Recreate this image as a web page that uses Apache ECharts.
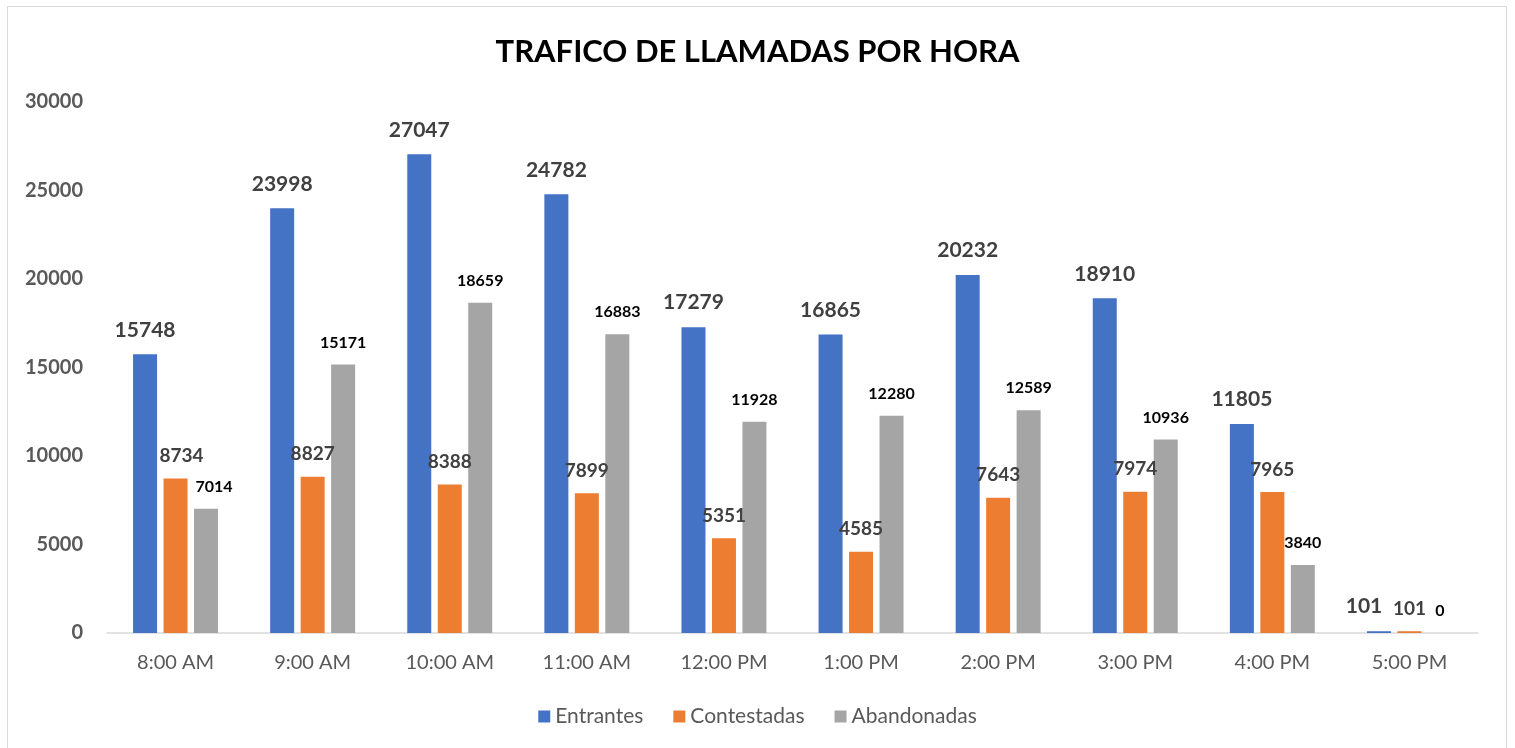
<!DOCTYPE html>
<html><head><meta charset="utf-8">
<script src="https://cdn.jsdelivr.net/npm/echarts@6/dist/echarts.min.js"></script>
<style>
html,body{margin:0;padding:0;background:#fff;}
#frame{position:absolute;left:7px;top:6px;width:1500px;height:760px;border:1.5px solid #d9d9d9;box-sizing:border-box;}
#c{position:absolute;left:0;top:0;width:1515px;height:748px;}
</style></head>
<body><div id="frame"></div><div id="c"></div>
<script>
const categories = ['8:00 AM','9:00 AM','10:00 AM','11:00 AM','12:00 PM','1:00 PM','2:00 PM','3:00 PM','4:00 PM','5:00 PM'];
const entrantes = [15748,23998,27047,24782,17279,16865,20232,18910,11805,101];
const contestadas = [8734,8827,8388,7899,5351,4585,7643,7974,7965,101];
const abandonadas = [7014,15171,18659,16883,11928,12280,12589,10936,3840,0];
const yTicks = [0,5000,10000,15000,20000,25000,30000];

const chart = echarts.init(document.getElementById('c'), null, {renderer:'canvas'});
const F = 'Lato, "Open Sans", sans-serif';
const withOffset = (arr, idx, off) => arr.map((v,i) => i===idx ? {value:v, label:{offset:off}} : v);
chart.setOption({
  backgroundColor:'transparent',
  animation:false,
  title:{text:'TRAFICO DE LLAMADAS POR HORA', left:'center', top:31,
    textStyle:{fontFamily:F, fontWeight:'bold', fontSize:31, color:'#000'}},
  legend:{bottom:16, left:'center', itemWidth:12, itemHeight:12, itemGap:30, icon:'rect',
    textStyle:{fontFamily:F, fontSize:21, color:'#595959'}},
  grid:{left:107, right:37, top:102, bottom:115},
  xAxis:{type:'category', data:categories,
    axisLine:{lineStyle:{color:'#d9d9d9', width:1.5}}, axisTick:{show:false},
    axisLabel:{fontFamily:F, fontSize:20, color:'#595959', margin:20}},
  yAxis:{type:'value', min:yTicks[0], max:yTicks[yTicks.length-1], interval:5000,
    splitLine:{show:false}, axisLine:{show:false}, axisTick:{show:false},
    axisLabel:{fontFamily:F, fontSize:20, fontWeight:'bold', color:'#595959', margin:24,
      formatter:v=>String(v)}},
  series:[
    {name:'Entrantes', type:'bar', data:withOffset(entrantes,9,[-15,0]), barWidth:24, barGap:'27%',
     itemStyle:{color:'#4472c4'},
     label:{show:true, position:'top', distance:14, fontFamily:F, fontWeight:'bold', fontSize:21, color:'#404040'}},
    {name:'Contestadas', type:'bar', data:withOffset(contestadas,0,[6,0]), barWidth:24,
     itemStyle:{color:'#ed7d31'},
     label:{show:true, position:'top', distance:13, fontFamily:F, fontWeight:'bold', fontSize:19, color:'#404040'}},
    {name:'Abandonadas', type:'bar', data:withOffset(abandonadas,0,[8,0]), barWidth:24,
     itemStyle:{color:'#a5a5a5'},
     label:{show:true, position:'top', distance:14, fontFamily:F, fontWeight:'bold', fontSize:16, color:'#000'}}
  ]
});
</script></body></html>
